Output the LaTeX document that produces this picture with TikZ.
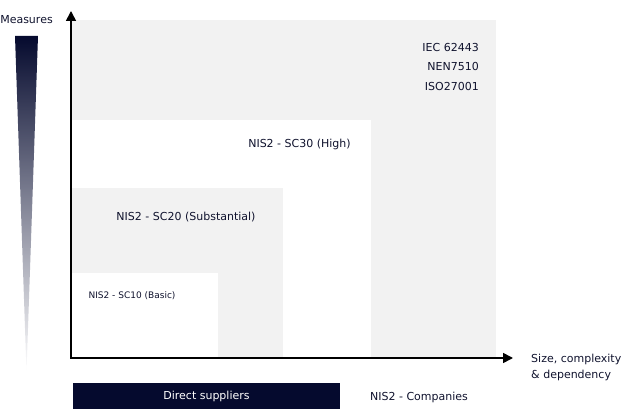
\documentclass[tikz,border=0pt]{standalone}
\usepackage{fontspec}
\setmainfont{DejaVu Sans}
\usetikzlibrary{arrows.meta}
\definecolor{navy}{HTML}{050A2E}
\definecolor{ink}{HTML}{10132E}
\definecolor{zonegray}{HTML}{F2F2F2}
\tikzset{zone/.style={anchor=south west,inner sep=0pt,outer sep=0pt}}
\tikzset{txt/.style={text=ink,inner sep=0pt,font=\fontsize{11}{16}\selectfont}}
\tikzset{small/.style={txt,font=\fontsize{9}{11}\selectfont}}
\tikzset{axis/.style={line width=1.6pt,-{Triangle[length=10pt,width=10pt]}}}

\begin{document}
\begin{tikzpicture}[x=1pt,y=-1pt]
    \useasboundingbox (0,0) rectangle (623,409);

    % nested zones
    \node[zone,fill=zonegray,minimum width=424pt,minimum height=337pt] (iso) at (72,357) {};
    \node[zone,fill=white,minimum width=299pt,minimum height=237pt] (sc30) at (72,357) {};
    \node[zone,fill=zonegray,minimum width=211pt,minimum height=169pt] (sc20) at (72,357) {};
    \node[zone,fill=white,minimum width=146pt,minimum height=84pt] (sc10) at (72,357) {};

    % standards
    \foreach \s [count=\i] in {IEC 62443,NEN7510,ISO27001}{
        \node[txt,anchor=east] (std\i) at (479,{47+19.5*(\i-1)}) {\s};
    }
    \node[txt] (high) at (299.5,144) {NIS2 - SC30 (High)};
    \node[txt] (subst) at (186,217) {NIS2 - SC20 (Substantial)};
    \node[small] (basic) at (132,296) {NIS2 - SC10 (Basic)};

    % measures
    \node[txt] (measures) at (26.5,20) {Measures};
    \shade[top color=navy,bottom color=white] (15,36) -- (38,36) -- (26.5,372) -- cycle;

    % axes
    \coordinate (o) at (71,358);
    \coordinate (ytip) at (71,11);
    \coordinate (xtip) at (513,358);
    \draw[axis] ([yshift=-0.8pt]o) -- (ytip);
    \draw[axis] ([xshift=-0.8pt]o) -- (xtip);
    \node[txt,anchor=west,align=left] (size) at (531,367) {Size, complexity\\\& dependency};

    % bottom
    \node[fill=navy,text=white,inner sep=0pt,minimum width=267pt,minimum height=26pt,
          font=\fontsize{11}{13}\selectfont] (direct) at (206.5,396) {Direct suppliers};
    \node[txt] (companies) at (419,397) {NIS2 - Companies};
\end{tikzpicture}
\end{document}
